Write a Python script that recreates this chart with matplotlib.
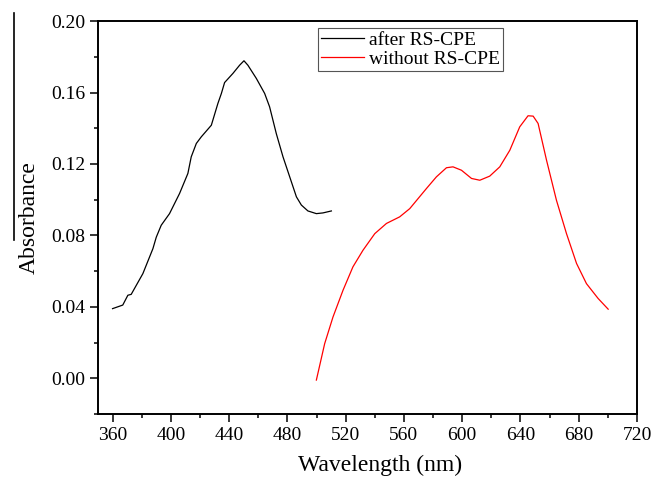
import matplotlib
matplotlib.use('Agg')
import matplotlib.pyplot as plt
from matplotlib.lines import Line2D
from matplotlib.ticker import MultipleLocator

plt.rcParams['font.family'] = ['Liberation Serif', 'DejaVu Serif']

# spectrum
after_wl = [360, 367, 370.5, 372.8, 380.8, 387.7, 390, 393.4, 399.1, 406, 411.7, 414,
            417.5, 420.9, 427.8, 432.3, 434.7, 436.9, 442.6, 447.2, 450.2, 452.9, 458.7,
            464.4, 467.8, 472.4, 477, 481.6, 486.2, 489.6, 494.1, 499.9, 504.4, 510.2]
after_abs = [0.039, 0.041, 0.0465, 0.047, 0.0586, 0.0726, 0.079, 0.0857, 0.0922, 0.1035,
             0.1147, 0.124, 0.1315, 0.1352, 0.1417, 0.1539, 0.1595, 0.1656, 0.1707, 0.1753,
             0.1778, 0.1753, 0.1679, 0.1595, 0.152, 0.137, 0.124, 0.1128, 0.1016, 0.097,
             0.0937, 0.0922, 0.0926, 0.0937]

without_wl = [499.9, 505.6, 511.3, 518.2, 525, 531.9, 540, 548, 557.1, 564, 575.5, 582.3,
              589.2, 593.7, 599.5, 606.4, 612.1, 618.9, 625.8, 632.7, 639.5, 645.2, 648.7,
              652.1, 657.9, 664.7, 671.6, 678.5, 685.3, 693.3, 700.2]
without_abs = [-0.001, 0.0194, 0.0343, 0.0493, 0.0624, 0.0717, 0.081, 0.0867, 0.0904, 0.095,
               0.1063, 0.1128, 0.1179, 0.1184, 0.1165, 0.1119, 0.1109, 0.1132, 0.1184, 0.1277,
               0.1408, 0.147, 0.1468, 0.1427, 0.1221, 0.0997, 0.081, 0.0643, 0.053, 0.0447,
               0.0387]

fig = plt.figure(figsize=(6.52, 4.8), dpi=100)
ax = fig.add_axes([0.1503, 0.1375, 0.8267, 0.8185])

ax.plot(after_wl, after_abs, color='black', lw=0.9, label='after RS-CPE')
ax.plot(without_wl, without_abs, color='red', lw=0.9, label='without RS-CPE')

ax.set_xlim(350, 720)
ax.set_ylim(-0.02, 0.20)
ax.xaxis.set_major_locator(MultipleLocator(40))
ax.xaxis.set_minor_locator(MultipleLocator(20))
ax.yaxis.set_major_locator(MultipleLocator(0.04))
ax.yaxis.set_minor_locator(MultipleLocator(0.02))
ax.set_xticks(range(360, 721, 40))
ax.set_yticks([0.0, 0.04, 0.08, 0.12, 0.16, 0.20])
ax.set_yticklabels(['0.00', '0.04', '0.08', '0.12', '0.16', '0.20'])

ax.tick_params(which='major', direction='out', length=5.8, width=1.1, labelsize=14)
ax.tick_params(which='minor', direction='out', length=3, width=1.1)
for sp in ax.spines.values():
    sp.set_linewidth(1.4)

ax.set_xlabel('Wavelength (nm)', fontsize=17)
ax.set_ylabel('Absorbance', fontsize=17)
ax.xaxis.set_label_coords(0.524, -0.104)
ax.yaxis.set_label_coords(-0.108, 0.5)

leg = ax.legend(loc='upper left', bbox_to_anchor=(0.408, 0.982), borderaxespad=0,
                fontsize=14, fancybox=False, edgecolor='#555555', framealpha=1,
                borderpad=0.15, labelspacing=0.1, handletextpad=0.3, handlelength=2.2)
leg.get_frame().set_linewidth(0.8)

# stray vertical stroke at the left edge of the original scan
fig.add_artist(Line2D([14 / 652, 14 / 652], [1 - 13 / 480, 1 - 240 / 480],
                      color='black', lw=1.2))

fig.savefig('out.png', dpi=100)
